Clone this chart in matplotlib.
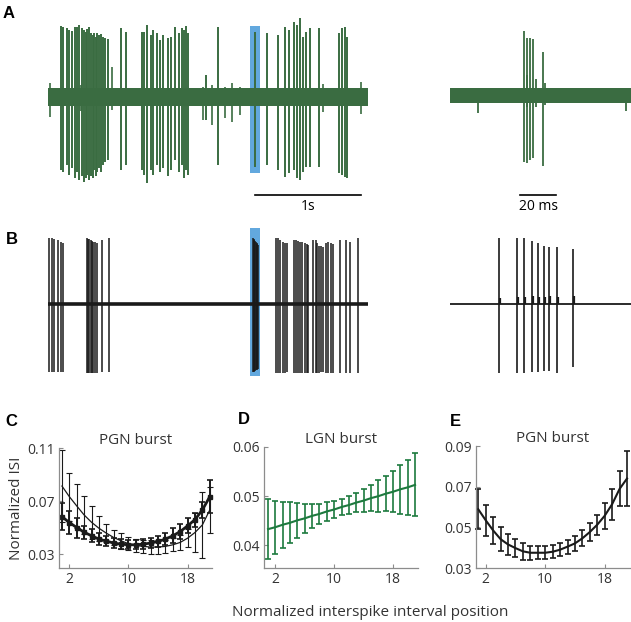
import numpy as np
import matplotlib.pyplot as plt
from matplotlib.patches import Rectangle

plt.rcParams['font.family'] = ['Open Sans', 'DejaVu Sans']

# ---------------- data ----------------
# A, left: extracellular PGN recording (3 s), spike time (s), peak and trough (a.u.)
pgn_t = [0.123, 0.142, 0.179, 0.198, 0.226, 0.255, 0.274, 0.292, 0.321, 0.340,
         0.358, 0.368, 0.387, 0.406, 0.425, 0.434, 0.453, 0.462, 0.481, 0.500,
         0.519, 0.538, 0.566, 0.689, 0.736, 0.887, 0.906, 0.934, 0.972, 0.991,
         1.028, 1.057, 1.085, 1.132, 1.160, 1.198, 1.236, 1.264, 1.283, 1.302,
         1.321, 1.491, 1.604, 1.953, 2.066, 2.170, 2.236, 2.274, 2.321, 2.349,
         2.377, 2.406, 2.434, 2.472, 2.557, 2.745, 2.774, 2.802, 2.821]
pgn_up = [0.71, 0.70, 0.69, 0.67, 0.66, 0.70, 0.70, 0.72, 0.69, 0.67,
          0.65, 0.68, 0.70, 0.64, 0.62, 0.64, 0.60, 0.64, 0.62, 0.63,
          0.60, 0.59, 0.58, 0.69, 0.65, 0.65, 0.65, 0.72, 0.62, 0.67,
          0.64, 0.57, 0.62, 0.59, 0.60, 0.70, 0.64, 0.69, 0.67, 0.71,
          0.64, 0.22, 0.70, 0.65, 0.64, 0.62, 0.70, 0.67, 0.75, 0.72,
          0.79, 0.60, 0.65, 0.69, 0.69, 0.64, 0.69, 0.70, 0.60]
pgn_dn = [0.73, 0.75, 0.68, 0.78, 0.71, 0.81, 0.75, 0.83, 0.79, 0.85,
          0.81, 0.78, 0.83, 0.79, 0.81, 0.73, 0.79, 0.75, 0.71, 0.75,
          0.68, 0.65, 0.63, 0.73, 0.68, 0.73, 0.78, 0.86, 0.73, 0.78,
          0.68, 0.75, 0.71, 0.79, 0.73, 0.63, 0.75, 0.68, 0.81, 0.73,
          0.78, 0.23, 0.68, 0.70, 0.68, 0.73, 0.80, 0.76, 0.73, 0.81,
          0.83, 0.75, 0.70, 0.70, 0.70, 0.76, 0.78, 0.80, 0.81]
# small deflections in the noise
pgn_small_t = [0.02, 0.31, 0.60, 1.462, 1.547, 1.670, 1.736, 1.811, 2.60, 2.95]
pgn_small_up = [0.14, 0.12, 0.30, 0.10, 0.12, 0.10, 0.14, 0.10, 0.13, 0.15]
pgn_small_dn = [0.20, 0.14, 0.13, 0.23, 0.28, 0.21, 0.25, 0.18, 0.15, 0.17]
pgn_noise = 0.09

# A, right: zoom on one PGN burst (ms)
pgn_zoom_t = [41.1, 42.8, 44.4, 46.1, 51.7]
pgn_zoom_up = [0.66, 0.59, 0.59, 0.58, 0.45]
pgn_zoom_dn = [0.65, 0.66, 0.63, 0.61, 0.69]
pgn_zoom_small_t = [15.6, 43.0, 47.5, 52.8, 97.5]
pgn_zoom_small_up = [0.06, 0.22, 0.18, 0.14, 0.08]
pgn_zoom_small_dn = [0.16, 0.10, 0.10, 0.08, 0.14]
pgn_zoom_noise = 0.075

# B, left: LGN recording (3 s)
lgn_t = [0.009, 0.038, 0.057, 0.094, 0.123, 0.142,
         0.368, 0.377, 0.387, 0.406, 0.415, 0.425, 0.443, 0.462, 0.509, 0.575,
         1.930, 1.940, 1.948, 1.955, 1.962, 1.969, 1.976, 1.984,
         2.151, 2.170, 2.189, 2.217, 2.236, 2.255,
         2.321, 2.340, 2.358, 2.377, 2.396, 2.425, 2.443, 2.453,
         2.500, 2.528, 2.538, 2.557, 2.575, 2.594, 2.623, 2.642, 2.670, 2.689,
         2.755, 2.811, 2.849, 2.925]
lgn_up = [0.66, 0.66, 0.65, 0.64, 0.62, 0.61,
          0.66, 0.65, 0.65, 0.64, 0.63, 0.62, 0.62, 0.61, 0.64, 0.66,
          0.66, 0.65, 0.64, 0.63, 0.62, 0.61, 0.60, 0.59,
          0.66, 0.66, 0.64, 0.62, 0.61, 0.61,
          0.64, 0.64, 0.63, 0.62, 0.62, 0.61, 0.60, 0.59,
          0.64, 0.64, 0.61, 0.58, 0.58, 0.57, 0.61, 0.62, 0.61, 0.60,
          0.64, 0.64, 0.62, 0.66]
lgn_dn = [0.68, 0.68, 0.68, 0.68, 0.68, 0.68,
          0.69, 0.69, 0.69, 0.69, 0.69, 0.69, 0.69, 0.69, 0.68, 0.68,
          0.68, 0.68, 0.67, 0.67, 0.66, 0.66, 0.65, 0.65,
          0.69, 0.69, 0.69, 0.69, 0.69, 0.68,
          0.69, 0.69, 0.69, 0.69, 0.69, 0.69, 0.69, 0.69,
          0.69, 0.69, 0.69, 0.69, 0.68, 0.68, 0.69, 0.69, 0.69, 0.69,
          0.69, 0.69, 0.69, 0.69]

# B, right: zoom on one LGN burst (ms)
lgn_zoom_t = [27.2, 37.2, 41.1, 45.6, 48.9, 52.2, 55.0, 59.4, 68.3]
lgn_zoom_up = [0.66, 0.66, 0.66, 0.63, 0.61, 0.58, 0.57, 0.57, 0.55]
lgn_zoom_dn = [0.69, 0.69, 0.69, 0.68, 0.68, 0.67, 0.67, 0.69, 0.63]
lgn_zoom_ahp = [0.06, 0.07, 0.07, 0.08, 0.07, 0.07, 0.08, 0.07, 0.08]

trace_len_s = 3.02
zoom_len_ms = 100.5
burst_window = (1.906, 2.0)  # s, highlighted burst

# C-E: normalized ISI vs interspike interval position
isi_pos = list(range(1, 22))
c_mean_thick = [0.0582, 0.0538, 0.0500, 0.0465, 0.0438, 0.0413, 0.0398, 0.0383, 0.0375, 0.0370, 0.0370,
                0.0375, 0.0383, 0.0395, 0.0413, 0.0438, 0.0470, 0.0513, 0.0560, 0.0633, 0.0733]
c_err_thick = [0.0100, 0.0088, 0.0075, 0.0050, 0.0048, 0.0044, 0.0040, 0.0040, 0.0035, 0.0035, 0.0035,
               0.0035, 0.0035, 0.0040, 0.0045, 0.0056, 0.0058, 0.0056, 0.0053, 0.0063, 0.0125]
c_mean_thin = [0.0813, 0.0733, 0.0663, 0.0595, 0.0540, 0.0495, 0.0458, 0.0425, 0.0400, 0.0378, 0.0365,
               0.0358, 0.0353, 0.0353, 0.0358, 0.0370, 0.0388, 0.0420, 0.0463, 0.0520, 0.0633]
c_err_thin = [0.0270, 0.0180, 0.0165, 0.0143, 0.0123, 0.0093, 0.0070, 0.0058, 0.0058, 0.0050, 0.0050,
              0.0050, 0.0050, 0.0050, 0.0050, 0.0050, 0.0058, 0.0070, 0.0145, 0.0250, 0.0175]

d_mean = [0.0433, 0.0437, 0.0442, 0.0446, 0.0451, 0.0455, 0.0460, 0.0464, 0.0469, 0.0473, 0.0478,
          0.0482, 0.0487, 0.0491, 0.0496, 0.0500, 0.0505, 0.0509, 0.0514, 0.0518, 0.0523]
d_err = [0.0061, 0.0054, 0.0047, 0.0042, 0.0035, 0.0029, 0.0025, 0.0021, 0.0019, 0.0018, 0.0017,
         0.0019, 0.0019, 0.0023, 0.0027, 0.0032, 0.0036, 0.0042, 0.0050, 0.0056, 0.0064]

e_mean = [0.0589, 0.0535, 0.0485, 0.0442, 0.0416, 0.0398, 0.0382, 0.0375, 0.0375, 0.0375, 0.0380,
          0.0390, 0.0405, 0.0421, 0.0446, 0.0477, 0.0513, 0.0557, 0.0614, 0.0689, 0.0740]
e_err = [0.0098, 0.0076, 0.0066, 0.0060, 0.0050, 0.0045, 0.0041, 0.0034, 0.0031, 0.0031, 0.0031,
         0.0033, 0.0034, 0.0038, 0.0039, 0.0045, 0.0049, 0.0065, 0.0076, 0.0086, 0.0133]

GREEN_TRACE = '#3a6c41'
GREEN_D = '#1d7a3e'
BLUE = '#62a8de'
DARK = '#1a1a1a'

W, H = 631, 622
fig = plt.figure(figsize=(W / 100, H / 100), dpi=100)


def px_axes(x0, y0, x1, y1):
    # axes from pixel box (top-left origin)
    return fig.add_axes([x0 / W, 1 - y1 / H, (x1 - x0) / W, (y1 - y0) / H])


# ---------------- A ----------------
axA = px_axes(48, 12, 368, 217)
axA.set_xlim(0, trace_len_s)
axA.set_ylim(-1.2, 0.85)
axA.axis('off')
axA.add_patch(Rectangle((burst_window[0], -0.76), burst_window[1] - burst_window[0], 1.47,
                        color=BLUE, zorder=0, lw=0))
axA.fill_between([0, trace_len_s], -pgn_noise, pgn_noise, color=GREEN_TRACE, lw=0, zorder=1)
axA.vlines(pgn_t, -np.array(pgn_dn), pgn_up, color=GREEN_TRACE, lw=1.4, zorder=2)
axA.vlines(pgn_small_t, -np.array(pgn_small_dn), pgn_small_up, color=GREEN_TRACE, lw=1.2, zorder=2)
axA.plot([1.953, 2.953], [-0.98, -0.98], color='k', lw=1.2, clip_on=False)
axA.text(2.453, -1.02, '1s', ha='center', va='top', fontsize=10)

axA2 = px_axes(450, 12, 631, 217)
axA2.set_xlim(0, zoom_len_ms)
axA2.set_ylim(-1.2, 0.85)
axA2.axis('off')
axA2.fill_between([0, zoom_len_ms], -pgn_zoom_noise + 0.02, pgn_zoom_noise + 0.02,
                  color=GREEN_TRACE, lw=0)
axA2.vlines(pgn_zoom_t, -np.array(pgn_zoom_dn), pgn_zoom_up, color=GREEN_TRACE, lw=1.3)
axA2.vlines(pgn_zoom_small_t, -np.array(pgn_zoom_small_dn), pgn_zoom_small_up,
            color=GREEN_TRACE, lw=1.3)
axA2.plot([38.9, 58.9], [-0.98, -0.98], color='k', lw=1.2, clip_on=False)
axA2.text(48.9, -1.02, '20 ms', ha='center', va='top', fontsize=10)

# ---------------- B ----------------
axB = px_axes(48, 224, 368, 384)
axB.set_xlim(0, trace_len_s)
axB.set_ylim(-0.8, 0.8)
axB.axis('off')
axB.add_patch(Rectangle((burst_window[0], -0.72), burst_window[1] - burst_window[0], 1.48,
                        color=BLUE, zorder=0, lw=0))
axB.axhline(0, color=DARK, lw=2.6, zorder=1)
axB.vlines(lgn_t, -np.array(lgn_dn), lgn_up, color=DARK, lw=1.1, zorder=2)

axB2 = px_axes(450, 224, 631, 384)
axB2.set_xlim(0, zoom_len_ms)
axB2.set_ylim(-0.8, 0.8)
axB2.axis('off')
axB2.axhline(0, color=DARK, lw=1.3)
axB2.vlines(lgn_zoom_t, -np.array(lgn_zoom_dn), lgn_zoom_up, color=DARK, lw=1.2)
axB2.vlines(np.array(lgn_zoom_t) + 0.6, 0, lgn_zoom_ahp, color=DARK, lw=1.6)

# ---------------- C, D, E ----------------
def style_isi(ax, yticks, ylim, xlim, title):
    for s in ['top', 'right']:
        ax.spines[s].set_visible(False)
    for s in ['left', 'bottom']:
        ax.spines[s].set_color('#8c8c8c')
        ax.spines[s].set_linewidth(0.9)
    ax.set_xticks([2, 10, 18])
    ax.set_yticks(yticks)
    ax.set_yticklabels([f'{v:.2f}' for v in yticks])
    ax.set_xlim(*xlim)
    ax.set_ylim(*ylim)
    ax.tick_params(direction='in', length=3, color='#8c8c8c', labelsize=10,
                   labelcolor='#333333', pad=3)
    ax.set_title(title, fontsize=11, color='#333333', pad=2)


def noclip(container):
    for art in container.get_children():
        art.set_clip_on(False)


axC = px_axes(59, 448, 212, 568)
noclip(axC.errorbar(isi_pos, c_mean_thin, yerr=c_err_thin, color=DARK, lw=0.9,
                    elinewidth=0.8, capsize=2, capthick=0.8))
noclip(axC.errorbar(isi_pos, c_mean_thick, yerr=c_err_thick, color=DARK, lw=2.0,
                    elinewidth=1.4, capsize=2, capthick=1.2, marker='s', ms=2.5))
style_isi(axC, [0.03, 0.07, 0.11], (0.0195, 0.11), (0.6, 21.3), 'PGN burst')
axC.set_ylabel('Normalized ISI', fontsize=11, color='#333333', labelpad=2)

axD = px_axes(264, 447, 418, 568)
noclip(axD.errorbar(isi_pos, d_mean, yerr=d_err, color=GREEN_D, lw=1.5,
                    elinewidth=1.2, capsize=2.5, capthick=1.2))
style_isi(axD, [0.04, 0.05, 0.06], (0.0354, 0.06), (0.45, 21.4), 'LGN burst')

axE = px_axes(476, 446, 630, 568)
noclip(axE.errorbar(isi_pos, e_mean, yerr=e_err, color=DARK, lw=1.5,
                    elinewidth=1.2, capsize=2.5, capthick=1.2))
style_isi(axE, [0.03, 0.05, 0.07, 0.09], (0.03, 0.09), (0.7, 21.4), 'PGN burst')

fig.text(370 / W, 1 - 612 / H, 'Normalized interspike interval position',
         ha='center', va='center', fontsize=11, color='#333333')

# panel letters
for lab, (x, y) in {'A': (9, 13), 'B': (12, 240), 'C': (11, 421),
                    'D': (244, 420), 'E': (455, 421)}.items():
    fig.text(x / W, 1 - y / H, lab, ha='center', va='center', fontsize=12,
             fontweight='bold', family='Liberation Sans')

fig.savefig('out.png', dpi=100)
